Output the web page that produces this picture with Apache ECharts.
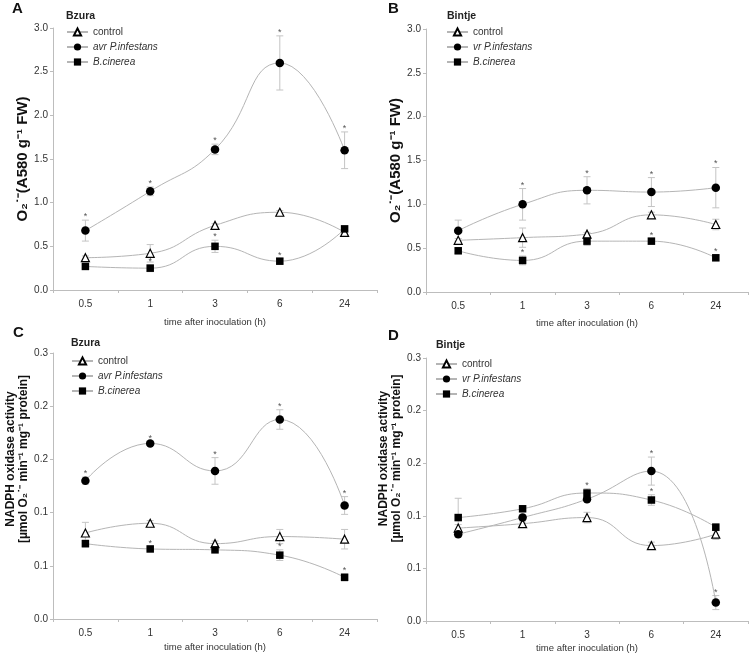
<!DOCTYPE html>
<html><head><meta charset="utf-8">
<script src="https://cdn.jsdelivr.net/npm/echarts@6/dist/echarts.min.js"></script>
<style>html,body{margin:0;padding:0;background:#fff}#c{width:756px;height:656px}</style>
</head><body><div id="c"></div>
<script>
// ---------- data ----------
const hours = ['0.5', '1', '3', '6', '24'];

// Panel A – Bzura, O2- production
const aControl = [0.37, 0.42, 0.74, 0.89, 0.66];
const aControlErr = [0.02, 0.10, 0.02, 0.02, 0.02];
const aControlSig = [0, 0, 0, 0, 0];
const aPath = [0.68, 1.13, 1.61, 2.60, 1.60];
const aPathErr = [0.12, 0.05, 0.06, 0.31, 0.21];
const aPathSig = [1, 1, 1, 1, 1];
const aBot = [0.27, 0.25, 0.50, 0.33, 0.70];
const aBotErr = [0.02, 0.04, 0.07, 0.03, 0.02];
const aBotSig = [0, 1, 1, 1, 0];

// Panel B – Bintje, O2- production
const bControl = [0.59, 0.62, 0.66, 0.88, 0.77];
const bControlErr = [0.02, 0.11, 0.02, 0.03, 0.06];
const bControlSig = [0, 0, 0, 0, 0];
const bPath = [0.70, 1.00, 1.16, 1.14, 1.19];
const bPathErr = [0.12, 0.18, 0.155, 0.165, 0.23];
const bPathSig = [0, 1, 1, 1, 1];
const bBot = [0.47, 0.36, 0.58, 0.58, 0.39];
const bBotErr = [0.03, 0.05, 0.05, 0.03, 0.03];
const bBotSig = [1, 1, 0, 1, 1];

// Panel C – Bzura, NADPH oxidase
const cControl = [0.097, 0.108, 0.085, 0.093, 0.090];
const cControlErr = [0.012, 0.003, 0.003, 0.008, 0.011];
const cControlSig = [0, 0, 0, 0, 0];
const cPath = [0.156, 0.198, 0.167, 0.225, 0.128];
const cPathErr = [0.004, 0.002, 0.015, 0.011, 0.010];
const cPathSig = [1, 1, 1, 1, 1];
const cBot = [0.085, 0.079, 0.078, 0.072, 0.047];
const cBotErr = [0.004, 0.002, 0.002, 0.006, 0.004];
const cBotSig = [0, 1, 0, 1, 1];

// Panel D – Bintje, NADPH oxidase
const dControl = [0.106, 0.111, 0.118, 0.086, 0.099];
const dControlErr = [0.004, 0.002, 0.006, 0.004, 0.006];
const dControlSig = [0, 0, 0, 0, 0];
const dPath = [0.099, 0.118, 0.139, 0.171, 0.021];
const dPathErr = [0.003, 0.003, 0.003, 0.016, 0.008];
const dPathSig = [0, 0, 1, 1, 1];
const dBot = [0.118, 0.128, 0.146, 0.138, 0.107];
const dBotErr = [0.022, 0.002, 0.005, 0.006, 0.004];
const dBotSig = [0, 0, 1, 1, 0];

const yTicksO2 = [0, 3, 0.5];     // min, max, interval
const yTicksNADPH = [0, 0.3, 0.06];

// ---------- style / layout ----------
const FONT = '"Liberation Sans", Arial, sans-serif';
const panels = [
  { letter: 'A', cult: 'Bzura', path: 'avr P.infestans', grid: { left: 53, top: 28, width: 324, height: 262 },
    yt: yTicksO2, yName: 'O₂˙⁻(A580 g⁻¹ FW)', nameGap: 21, namePad: 0, nameSize: 15, xGap: 27,
    letterPos: [12, 1], cultPos: [66, 11], legendPos: [66, 27],
    s: [[aControl, aControlErr, aControlSig], [aPath, aPathErr, aPathSig], [aBot, aBotErr, aBotSig]] },
  { letter: 'B', cult: 'Bintje', path: 'vr P.infestans', grid: { left: 426, top: 29, width: 322, height: 263 },
    yt: yTicksO2, yName: 'O₂˙⁻(A580 g⁻¹ FW)', nameGap: 21, namePad: 0, nameSize: 15, xGap: 26,
    letterPos: [388, 1], cultPos: [447, 11], legendPos: [446, 27],
    s: [[bControl, bControlErr, bControlSig], [bPath, bPathErr, bPathSig], [bBot, bBotErr, bBotSig]] },
  { letter: 'C', cult: 'Bzura', path: 'avr P.infestans', grid: { left: 53, top: 353, width: 324, height: 266 },
    yt: yTicksNADPH, yName: 'NADPH oxidase activity\n[µmol O₂˙⁻ min⁻¹ mg⁻¹ protein]', nameGap: 14, namePad: 54, nameSize: 12, xGap: 23,
    letterPos: [13, 325], cultPos: [71, 338], legendPos: [71, 356],
    s: [[cControl, cControlErr, cControlSig], [cPath, cPathErr, cPathSig], [cBot, cBotErr, cBotSig]] },
  { letter: 'D', cult: 'Bintje', path: 'vr P.infestans', grid: { left: 426, top: 358, width: 322, height: 263 },
    yt: yTicksNADPH, yName: 'NADPH oxidase activity\n[µmol O₂˙⁻ min⁻¹ mg⁻¹ protein]', nameGap: 14, namePad: 62, nameSize: 12, xGap: 22,
    letterPos: [388, 328], cultPos: [436, 340], legendPos: [435, 359],
    s: [[dControl, dControlErr, dControlSig], [dPath, dPathErr, dPathSig], [dBot, dBotErr, dBotSig]] }
];

const markers = [
  { symbol: 'triangle', size: 8, itemStyle: { color: '#fff', borderColor: '#000', borderWidth: 1.2 } },
  { symbol: 'circle', size: 8.5, itemStyle: { color: '#000', borderColor: '#000', borderWidth: 0 } },
  { symbol: 'rect', size: 7.5, itemStyle: { color: '#000', borderColor: '#000', borderWidth: 0 } }
];

function errRender(params, api) {
  const x = api.value(0), y = api.value(1), e = api.value(2), s = api.value(3);
  const top = api.coord([x, y + e]);
  const bot = api.coord([x, y - e]);
  const w = 3.5;
  const st = { stroke: '#c4c4c4', lineWidth: 1, fill: null };
  const ch = [
    { type: 'line', shape: { x1: top[0], y1: top[1], x2: bot[0], y2: bot[1] }, style: st },
    { type: 'line', shape: { x1: top[0] - w, y1: top[1], x2: top[0] + w, y2: top[1] }, style: st },
    { type: 'line', shape: { x1: bot[0] - w, y1: bot[1], x2: bot[0] + w, y2: bot[1] }, style: st }
  ];
  if (s) {
    ch.push({ type: 'text', style: { text: '*', x: top[0], y: top[1] + 1, align: 'center', verticalAlign: 'bottom',
      fill: '#555', font: '9px ' + FONT } });
  }
  return { type: 'group', children: ch };
}

const option = { animation: false, backgroundColor: '#fff', title: [], legend: [], grid: [], xAxis: [], yAxis: [], series: [] };

panels.forEach((p, gi) => {
  option.grid.push(p.grid);
  option.title.push({ text: p.letter, left: p.letterPos[0], top: p.letterPos[1],
    textStyle: { fontFamily: FONT, fontSize: 15, fontWeight: 'bold', color: '#111' }, padding: 0 });
  option.title.push({ text: p.cult, left: p.cultPos[0], top: p.cultPos[1],
    textStyle: { fontFamily: FONT, fontSize: 10.5, fontWeight: 'bold', color: '#222' }, padding: 0 });
  const names = ['control', p.path, 'B.cinerea'];
  option.legend.push({
    orient: 'vertical', left: p.legendPos[0], top: p.legendPos[1], itemWidth: 21, itemHeight: 9, itemGap: 5, padding: 0,
    selectedMode: false,
    textStyle: { fontFamily: FONT, fontSize: 10, color: '#333' },
    data: [{ name: names[0] },
           { name: names[1], textStyle: { fontStyle: 'italic' } },
           { name: names[2], textStyle: { fontStyle: 'italic' } }]
  });
  option.xAxis.push({
    type: 'category', gridIndex: gi, data: hours, boundaryGap: true,
    name: 'time after inoculation (h)', nameLocation: 'middle', nameGap: p.xGap,
    nameTextStyle: { fontFamily: FONT, fontSize: 9.5, color: '#333' },
    axisLine: { lineStyle: { color: '#bdbdbd', width: 1 } },
    axisTick: { show: true, length: 3, lineStyle: { color: '#bdbdbd' }, alignWithLabel: false },
    axisLabel: { fontFamily: FONT, fontSize: 10, color: '#333', margin: 9 },
    splitLine: { show: false }
  });
  option.yAxis.push({
    type: 'value', gridIndex: gi, min: p.yt[0], max: p.yt[1], interval: p.yt[2],
    name: p.yName, nameLocation: 'middle', nameGap: p.nameGap, nameRotate: 90,
    nameTextStyle: { fontFamily: FONT, fontSize: p.nameSize, fontWeight: 'bold', color: '#111', lineHeight: 13,
      padding: [0, 0, 0, p.namePad] },
    axisLine: { show: true, lineStyle: { color: '#bdbdbd', width: 1 } },
    axisTick: { show: true, length: 3, lineStyle: { color: '#bdbdbd' } },
    axisLabel: { fontFamily: FONT, fontSize: 10, color: '#333', margin: 5, formatter: v => v.toFixed(1) },
    splitLine: { show: false }
  });
  p.s.forEach((triple, si) => {
    const [vals, errs, sigs] = triple;
    const m = markers[si];
    option.series.push({
      type: 'line', name: names[si], xAxisIndex: gi, yAxisIndex: gi, data: vals, smooth: 0.5,
      symbol: m.symbol, symbolSize: m.size, showAllSymbol: true, itemStyle: m.itemStyle,
      lineStyle: { color: '#b5b5b5', width: 1 }, z: 5
    });
    option.series.push({
      type: 'custom', xAxisIndex: gi, yAxisIndex: gi, renderItem: errRender, z: 3, silent: true,
      encode: { x: 0, y: 1 },
      data: vals.map((v, i) => [i, v, errs[i], sigs[i]])
    });
  });
});

const chart = echarts.init(document.getElementById('c'), null, { renderer: 'canvas' });
chart.setOption(option);
</script></body></html>
